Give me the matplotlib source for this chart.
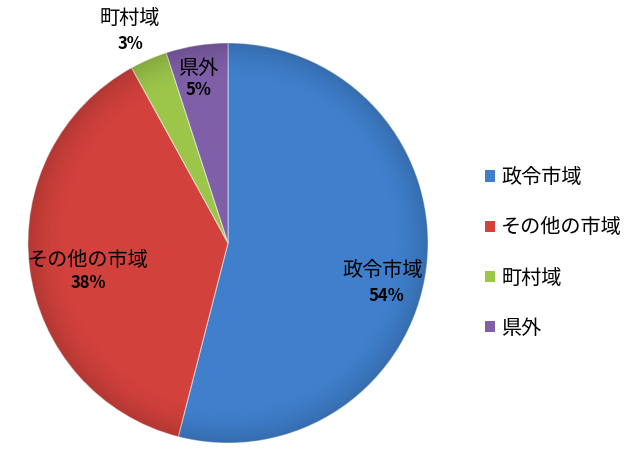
import numpy as np
import matplotlib
matplotlib.use("Agg")
import matplotlib.pyplot as plt
from matplotlib.patches import Circle, Patch

plt.rcParams['font.family'] = ['Noto Sans CJK JP', 'DejaVu Sans']

# data
categories = ["政令市域", "その他の市域", "町村域", "県外"]
shares = [54, 38, 3, 5]
colors = ["#3f7fcc", "#d2413c", "#9cc64a", "#7f5fa8"]

# label placement (data units, pie radius = 1)
name_pos = [(0.775, -0.14), (-0.70, -0.085), (-0.49, 1.125), (-0.15, 0.875)]
pct_pos = [(0.79, -0.265), (-0.70, -0.20), (-0.49, 0.995), (-0.15, 0.765)]

W, H = 627, 465
fig = plt.figure(figsize=(W / 100, H / 100), dpi=100)
ax = fig.add_axes([28 / W, 22 / H, 400 / W, 400 / H])

wedges, _ = ax.pie(shares, colors=colors, startangle=90, counterclock=False,
                   radius=1, wedgeprops=dict(edgecolor=(1, 1, 1, 0.5), linewidth=0.8))

# soft shading over the pie, like the office chart style
yy, xx = np.mgrid[-1:1:300j, -1:1:300j]
rr = np.sqrt(xx ** 2 + yy ** 2)
shade = np.zeros((300, 300, 4))
shade[..., 3] = np.clip((rr - 0.8) / 0.2, 0, 1) ** 2 * 0.15
img = ax.imshow(shade, extent=(-1, 1, -1, 1), origin="lower", zorder=3)
img.set_clip_path(Circle((0, 0), 1, transform=ax.transData))
ax.set_xlim(-1, 1)
ax.set_ylim(-1, 1)
ax.set_aspect("equal")
ax.axis("off")

for i in range(len(categories)):
    ax.text(name_pos[i][0], name_pos[i][1], categories[i], ha="center", va="center",
            fontsize=14.5, color="black", zorder=5, clip_on=False)
    ax.text(pct_pos[i][0], pct_pos[i][1], f"{shares[i]}%", ha="center", va="center",
            fontsize=12, fontweight="bold", color="black", zorder=5, clip_on=False)

handles = [Patch(facecolor=c, edgecolor="none") for c in colors]
fig.legend(handles, categories, loc="center left", bbox_to_anchor=(467 / W, 212 / H),
           frameon=False, fontsize=14.5, handlelength=0.5, handleheight=0.5,
           handletextpad=0.3, labelspacing=1.45)

fig.savefig("out.png", dpi=100)
